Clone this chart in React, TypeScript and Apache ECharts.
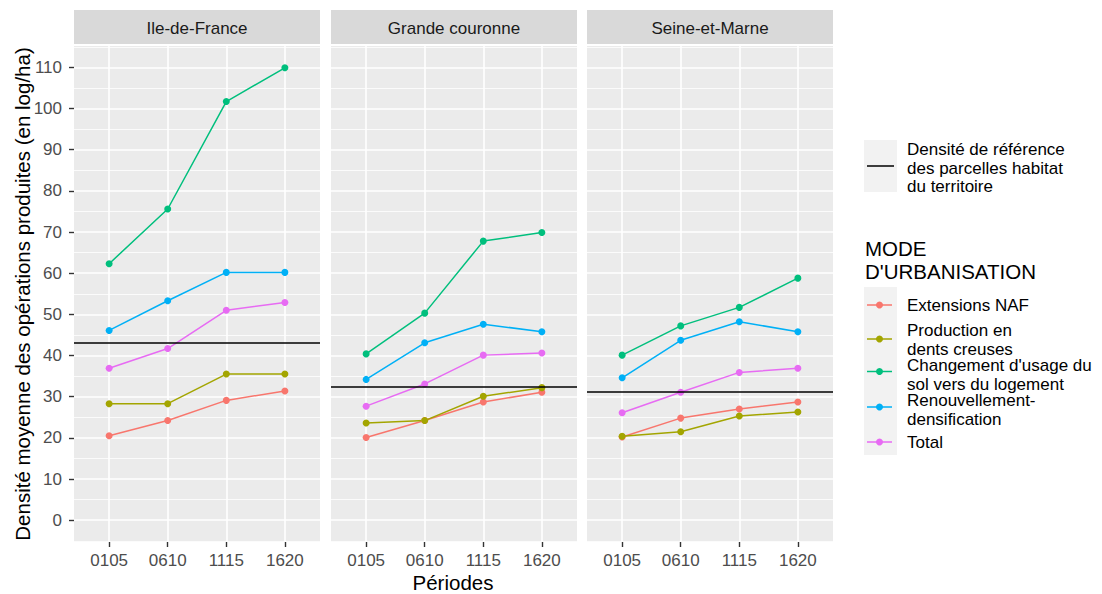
import React, { useEffect, useRef } from "react";
import * as echarts from "echarts";

// Periods on the x axis and the three territories (one facet each)
const periods = ["0105", "0610", "1115", "1620"];
const territories = ["Ile-de-France", "Grande couronne", "Seine-et-Marne"];

// Urbanisation modes, legend labels and their colours
const modes = [
  "Extensions NAF",
  "Production en\ndents creuses",
  "Changement d'usage du\nsol vers du logement",
  "Renouvellement-\ndensification",
  "Total",
];
const modeColors = ["#F8766D", "#A3A500", "#00BF7D", "#00B0F6", "#E76BF3"];

// Mean density (log/ha) per territory, per period
const extensionsNaf = [
  [20.5, 24.2, 29.1, 31.4],
  [20.1, 24.2, 28.7, 31.1],
  [20.2, 24.8, 27.0, 28.7],
];
const productionDentsCreuses = [
  [28.3, 28.3, 35.5, 35.5],
  [23.6, 24.2, 30.1, 32.2],
  [20.4, 21.5, 25.3, 26.3],
];
const changementUsage = [
  [62.3, 75.6, 101.7, 109.9],
  [40.4, 50.3, 67.8, 69.9],
  [40.1, 47.2, 51.7, 58.8],
];
const renouvellementDensification = [
  [46.1, 53.3, 60.2, 60.2],
  [34.2, 43.1, 47.6, 45.8],
  [34.6, 43.7, 48.2, 45.8],
];
const total = [
  [36.9, 41.7, 51.0, 52.9],
  [27.7, 33.1, 40.1, 40.6],
  [26.1, 31.1, 35.9, 36.9],
];
// Reference density of housing parcels, per territory
const referenceDensity = [43.1, 32.4, 31.1];

// Y ticks
const yMajorTicks = [0, 10, 20, 30, 40, 50, 60, 70, 80, 90, 100, 110];
const yMinorTicks = [-5, 5, 15, 25, 35, 45, 55, 65, 75, 85, 95, 105, 115];

const modeValues = [
  extensionsNaf,
  productionDentsCreuses,
  changementUsage,
  renouvellementDensification,
  total,
];

const FONT = "Liberation Sans, Arial, sans-serif";
const PANEL_LEFT = [74, 331, 587];
const PANEL_WIDTH = 246;
const PANEL_TOP = 46;
const PANEL_HEIGHT = 496;
const Y_MIN = -5.3;
const Y_MAX = 115.2;

function buildOption() {
  const grids = PANEL_LEFT.map((left) => ({
    left,
    top: PANEL_TOP,
    width: PANEL_WIDTH,
    height: PANEL_HEIGHT,
    show: true,
    backgroundColor: "#EBEBEB",
    borderWidth: 0,
    containLabel: false,
  }));

  const xIdx = periods.map((_, i) => i);

  const xAxes = territories.map((_, t) => ({
    type: "value",
    gridIndex: t,
    min: -0.6,
    max: 3.6,
    position: "bottom",
    axisLine: { show: false, onZero: false },
    axisTick: {
      show: true,
      customValues: xIdx,
      length: 5,
      lineStyle: { color: "#333333", width: 1.4 },
    },
    axisLabel: {
      show: true,
      customValues: xIdx,
      formatter: (v: number) => periods[Math.round(v)] ?? "",
      color: "#4D4D4D",
      fontSize: 17,
      fontFamily: FONT,
      margin: 10,
    },
    splitLine: { show: true, lineStyle: { color: "#FFFFFF", width: 1.6 } },
  }));

  const yAxes: any[] = [];
  territories.forEach((_, t) => {
    yAxes.push({
      type: "value",
      gridIndex: t,
      min: Y_MIN,
      max: Y_MAX,
      position: "left",
      axisLine: { show: false, onZero: false },
      axisTick: {
        show: true,
        customValues: yMajorTicks,
        length: t === 0 ? 5 : 0,
        lineStyle: { color: "#333333", width: 1.4 },
      },
      axisLabel: {
        show: t === 0,
        customValues: yMajorTicks,
        color: "#4D4D4D",
        fontSize: 17,
        fontFamily: FONT,
        margin: 12,
      },
      splitLine: { show: true, lineStyle: { color: "#FFFFFF", width: 1.6 } },
    });
    yAxes.push({
      type: "value",
      gridIndex: t,
      min: Y_MIN,
      max: Y_MAX,
      position: "left",
      axisLine: { show: false, onZero: false },
      axisTick: { show: true, customValues: yMinorTicks, length: 0 },
      axisLabel: { show: false, customValues: yMinorTicks },
      splitLine: { show: true, lineStyle: { color: "#FFFFFF", width: 0.8 } },
    });
  });

  const series: any[] = [];
  territories.forEach((_, t) => {
    modes.forEach((name, m) => {
      const s: any = {
        type: "line",
        name,
        xAxisIndex: t,
        yAxisIndex: t * 2,
        data: periods.map((_, i) => [i, modeValues[m][t][i]]),
        symbol: "circle",
        symbolSize: 7,
        showSymbol: true,
        color: modeColors[m],
        itemStyle: { color: modeColors[m] },
        lineStyle: { color: modeColors[m], width: 1.5 },
        z: 3,
      };
      if (m === 0) {
        s.markLine = {
          silent: true,
          symbol: ["none", "none"],
          label: { show: false },
          lineStyle: { color: "#000000", width: 1.5, type: "solid" },
          data: [{ yAxis: referenceDensity[t] }],
        };
      }
      series.push(s);
    });
  });

  const graphics: any[] = [];
  // Facet strips
  territories.forEach((name, t) => {
    graphics.push({
      type: "rect",
      shape: { x: PANEL_LEFT[t], y: 10, width: PANEL_WIDTH, height: 34 },
      style: { fill: "#D9D9D9" },
      silent: true,
    });
    graphics.push({
      type: "text",
      x: PANEL_LEFT[t] + PANEL_WIDTH / 2,
      y: 28,
      style: {
        text: name,
        fontSize: 17,
        fontFamily: FONT,
        fill: "#1A1A1A",
        align: "center",
        verticalAlign: "middle",
      },
      silent: true,
    });
  });

  // Axis titles
  graphics.push({
    type: "text",
    x: 22,
    y: 294,
    rotation: Math.PI / 2,
    style: {
      text: "Densité moyenne des opérations produites (en log/ha)",
      fontSize: 20.5,
      fontFamily: FONT,
      fill: "#000000",
      align: "center",
      verticalAlign: "middle",
    },
    silent: true,
  });
  graphics.push({
    type: "text",
    x: 453,
    y: 582,
    style: {
      text: "Périodes",
      fontSize: 20.5,
      fontFamily: FONT,
      fill: "#000000",
      align: "center",
      verticalAlign: "middle",
    },
    silent: true,
  });

  // Legend: reference line
  graphics.push({
    type: "rect",
    shape: { x: 864, y: 140, width: 33, height: 52 },
    style: { fill: "#F2F2F2" },
    silent: true,
  });
  graphics.push({
    type: "line",
    shape: { x1: 867, y1: 166, x2: 894, y2: 166 },
    style: { stroke: "#000000", lineWidth: 1.5 },
    silent: true,
  });
  graphics.push({
    type: "text",
    x: 907,
    y: 168,
    style: {
      text: "Densité de référence\ndes parcelles habitat\ndu territoire",
      fontSize: 17,
      lineHeight: 18.3,
      fontFamily: FONT,
      fill: "#000000",
      align: "left",
      verticalAlign: "middle",
    },
    silent: true,
  });

  // Legend: urbanisation modes
  graphics.push({
    type: "text",
    x: 865,
    y: 260,
    style: {
      text: "MODE\nD'URBANISATION",
      fontSize: 20.5,
      lineHeight: 22.5,
      fontFamily: FONT,
      fill: "#000000",
      align: "left",
      verticalAlign: "middle",
    },
    silent: true,
  });
  graphics.push({
    type: "rect",
    shape: { x: 864, y: 287, width: 33, height: 168 },
    style: { fill: "#F2F2F2" },
    silent: true,
  });
  const keyY = [305, 339, 371.5, 407, 442];
  const labelY = [305, 340, 375, 410, 442];
  modes.forEach((name, m) => {
    graphics.push({
      type: "line",
      shape: { x1: 867, y1: keyY[m], x2: 892, y2: keyY[m] },
      style: { stroke: modeColors[m], lineWidth: 1.5 },
      silent: true,
    });
    graphics.push({
      type: "circle",
      shape: { cx: 879.5, cy: keyY[m], r: 3.5 },
      style: { fill: modeColors[m] },
      silent: true,
    });
    graphics.push({
      type: "text",
      x: 907,
      y: labelY[m],
      style: {
        text: name,
        fontSize: 17,
        lineHeight: 18.3,
        fontFamily: FONT,
        fill: "#000000",
        align: "left",
        verticalAlign: "middle",
      },
      silent: true,
    });
  });

  return {
    animation: false,
    backgroundColor: "#FFFFFF",
    textStyle: { fontFamily: FONT },
    grid: grids,
    xAxis: xAxes,
    yAxis: yAxes,
    series,
    graphic: graphics,
  };
}

export default function App() {
  const ref = useRef<HTMLDivElement>(null);
  useEffect(() => {
    if (!ref.current) return;
    const chart = echarts.init(ref.current, null, { renderer: "svg" });
    chart.setOption(buildOption() as any);
    return () => chart.dispose();
  }, []);
  return (
    <div
      ref={ref}
      style={{ position: "absolute", left: 0, top: 0, width: 1102, height: 594, background: "#FFFFFF" }}
    />
  );
}
